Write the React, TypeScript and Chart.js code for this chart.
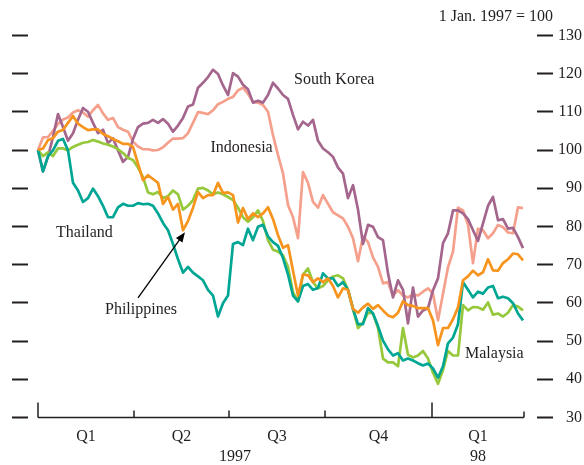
import { useEffect, useRef } from 'react';
import { Chart, registerables } from 'chart.js';

Chart.register(...registerables);

const FONT = '"Liberation Serif", "Times New Roman", serif';
const TEXT = '#231f20';

// Observation index (samples from 1 Jan 1997 to mid-March 1998)
const thailand = [
  100, 94.4, 98.4, 99.9, 102.4, 102.9, 99.9, 91.4, 89.4, 86.4,
  87.4, 89.9, 87.9, 85.4, 82.4, 82.4, 85, 85.9, 85.4, 85.4,
  86.1, 85.8, 85.9, 85.4, 83.4, 80.9, 79, 75.4, 71.4, 67.9,
  69.4, 67.9, 66.9, 65.9, 63.4, 61.9, 56.4, 59.9, 61.9, 75.4,
  75.9, 75.1, 79.4, 76.4, 79.9, 80.4, 77.4, 75.9, 74.9, 71.7,
  67.4, 61.9, 60.4, 64.4, 64.9, 63.4, 63.9, 67.7, 66.4, 66.4,
  64.4, 65.4, 63.4, 58.4, 54.4, 54.4, 58.6, 57.2, 53.9, 50.1,
  47.8, 46.2, 46.8, 44.9, 45.4, 44.9, 44.2, 43.6, 44.1, 42.8,
  40.4, 43.4, 49.4, 50.9, 54.4, 65.4, 63.4, 61.4, 62.9, 62.4,
  64, 64.4, 61.2, 61.6, 61.2, 59.9, 57.2, 55.4,
];
const malaysia = [
  100, 98.4, 99.4, 98.4, 100.4, 100.4, 99.9, 100.8, 101.4, 101.9,
  102.1, 102.6, 102.2, 101.7, 101.4, 100.9, 100.2, 99.2, 97.9, 97.4,
  95.4, 92.9, 88.9, 88.4, 89, 87.4, 87.9, 89.4, 88.4, 84.4,
  85.4, 86.9, 89.9, 90.1, 89.4, 88.4, 88.9, 88.4, 87.7, 86.9,
  84.9, 82.4, 81.2, 82.4, 84.2, 81.4, 76.4, 73.9, 73.4, 72.4,
  69.4, 62.7, 60.4, 67.4, 69, 65.4, 63.8, 64.4, 65.9, 66.9,
  67.2, 66.4, 63.4, 58.4, 53.4, 54.8, 57.4, 57.2, 53.4, 45.4,
  44.4, 44.4, 43.4, 53.4, 46.4, 45.7, 46.2, 47.4, 45.4, 41.7,
  38.8, 42.4, 47.4, 46.2, 46.2, 59.4, 58, 58.9, 58.8, 58.2,
  60.1, 56.9, 57.2, 56.4, 57.4, 59.4, 59, 58,
];
const philippines = [
  100, 100.4, 102.6, 103.1, 104.8, 105.3, 107.1, 108.9, 106.9, 106,
  105.2, 105.4, 105.4, 104.2, 103.6, 102.9, 102.3, 101.6, 101.6, 100.8,
  96.4, 92.1, 93.4, 92.4, 91.4, 85.9, 87.7, 84.4, 85.9, 79,
  81.4, 84.9, 89, 87.4, 88.2, 88.2, 91.4, 88.7, 88.9, 88.2,
  81, 84.8, 81.9, 83.4, 82.4, 83.4, 85, 81.9, 77.7, 74.4,
  75.1, 68.4, 61.9, 67.4, 67.2, 65.4, 66.4, 65.4, 66.4, 64.4,
  61.4, 63.8, 63.4, 58.4, 57.4, 58.8, 59.8, 58.4, 59.4, 58,
  56.7, 56.2, 57.4, 60.4, 59.4, 59.2, 58.6, 58.6, 58.6, 55.4,
  48.9, 53.4, 53.4, 55.7, 58.8, 65.9, 66.9, 68.4, 67.2, 68,
  71.4, 68.5, 68.4, 70.4, 71.4, 72.9, 72.7, 71.1,
];
const southKorea = [
  100, 94.4, 98.2, 103.4, 109.4, 106, 102.4, 104.4, 107.9, 111,
  110, 107.1, 104.4, 105.3, 101.8, 103.1, 99.9, 96.9, 98.2, 102.9,
  106, 106.9, 107.1, 107.9, 107.1, 108.1, 106.9, 104.8, 106.4, 108.4,
  111.4, 111.9, 116.3, 117.6, 119.1, 121, 119.9, 116.9, 114.4, 120.1,
  119.2, 117.1, 115.9, 112.4, 112.9, 112.4, 114.4, 117.6, 116.1, 114.4,
  113.4, 109.2, 105.4, 107.4, 106.4, 107.9, 102.4, 100.4, 99.4, 98.2,
  95.4, 93.8, 87.4, 90.8, 84.4, 75.4, 80.4, 79.9, 77.2, 76.4,
  67.7, 61.4, 65.9, 63.4, 54.6, 64, 56.4, 58, 58.6, 63.3,
  66.4, 75.6, 78.2, 84.2, 84.2, 83.4, 81.9, 79, 76.2, 80.8,
  85.4, 87.7, 81.6, 81.9, 79.4, 79.6, 77.2, 74.3,
];
const indonesia = [
  100, 103.3, 103.4, 105, 106.8, 108, 108.5, 109.8, 110.4, 109.8,
  108.7, 110.4, 111.8, 109.6, 107.9, 108.4, 106, 105.3, 104.8, 102.2,
  100.9, 100.2, 100.2, 99.9, 100, 100.7, 101.9, 103, 103, 103.1,
  104.4, 107.1, 109.9, 109.7, 109.4, 110.4, 112, 112.6, 113.4, 113.9,
  115.6, 116.3, 114.7, 112.6, 112.4, 111.8, 110, 103.9, 98.7, 93.9,
  85.6, 82.4, 76.9, 94.2, 91.4, 86.4, 84.9, 88.2, 85.9, 83.7,
  82.9, 82.1, 79.9, 76.9, 70.9, 77.4, 75.9, 71.9, 69.4, 65.1,
  65.4, 61.9, 63.3, 61.9, 61.4, 62.2, 61.9, 62.9, 63.8, 62.4,
  55.4, 62.4, 69.3, 73.4, 84.9, 84.2, 80.4, 70.4, 79.4, 79,
  76.9, 78.2, 80.4, 79.8, 78.4, 78.2, 85, 84.8,
];

// Axis definitions (in observation-index units)
const quarterStarts = [0, 19.2, 38.2, 57.4, 78.8];
const yearStarts = [0, 78.8];
const axisEnd = 97.2;
const quarterLabels = ['Q1', 'Q2', 'Q3', 'Q4', 'Q1'];
const yearLabels = ['1997', '98'];
const yearCenters = [39.4, 88];
const xMin = -2;
const xMax = 99.8;
const yMin = 30;
const yMax = 130;

const seriesNames = ['Philippines', 'Thailand', 'Malaysia', 'South Korea', 'Indonesia'];
const seriesColors = ['#f7941d', '#00a694', '#96c83c', '#a5668d', '#f5a08c'];

// Label positions in data units [x, y]
const seriesLabels: { text: string; x: number; y: number }[] = [
  { text: 'South Korea', x: 51.2, y: 118.3 },
  { text: 'Indonesia', x: 34.5, y: 100.5 },
  { text: 'Thailand', x: 3.6, y: 78.3 },
  { text: 'Philippines', x: 13.4, y: 58.1 },
  { text: 'Malaysia', x: 85.4, y: 46.6 },
];
const arrowFrom = { x: 20, y: 61.3 };
const arrowTo = { x: 29.4, y: 78.5 };

const quarterCenters = quarterStarts.map((q, i) =>
  (q + (i + 1 < quarterStarts.length ? quarterStarts[i + 1] : axisEnd)) / 2,
);

const annotPlugin = {
  id: 'annot',
  afterDraw(chart: any) {
    const { ctx, scales } = chart;
    const xs = scales.x;
    const ys = scales.y;
    ctx.save();
    const y0 = ys.getPixelForValue(yMin);
    ctx.strokeStyle = TEXT;
    ctx.lineWidth = 1.5;
    ctx.beginPath();
    ctx.moveTo(xs.getPixelForValue(quarterStarts[0]), y0);
    ctx.lineTo(xs.getPixelForValue(axisEnd), y0);
    quarterStarts.forEach((q) => {
      const len = yearStarts.includes(q) ? 15 : 7;
      const px = xs.getPixelForValue(q);
      ctx.moveTo(px, y0);
      ctx.lineTo(px, y0 - len);
    });
    const pe = xs.getPixelForValue(axisEnd);
    ctx.moveTo(pe, y0);
    ctx.lineTo(pe, y0 - 6);
    ctx.stroke();

    ctx.fillStyle = TEXT;
    ctx.font = `16px ${FONT}`;
    ctx.textBaseline = 'middle';
    ctx.textAlign = 'left';
    seriesLabels.forEach((l) => {
      ctx.fillText(l.text, xs.getPixelForValue(l.x), ys.getPixelForValue(l.y));
    });

    ctx.textAlign = 'right';
    ctx.fillText('1 Jan. 1997 = 100', ys.left + 16, 17);

    // arrow
    const ax1 = xs.getPixelForValue(arrowFrom.x);
    const ay1 = ys.getPixelForValue(arrowFrom.y);
    const ax2 = xs.getPixelForValue(arrowTo.x);
    const ay2 = ys.getPixelForValue(arrowTo.y);
    const ang = Math.atan2(ay2 - ay1, ax2 - ax1);
    const hl = 10;
    const hw = 4;
    ctx.strokeStyle = '#000';
    ctx.lineWidth = 1.3;
    ctx.beginPath();
    ctx.moveTo(ax1, ay1);
    ctx.lineTo(ax2 - Math.cos(ang) * hl * 0.8, ay2 - Math.sin(ang) * hl * 0.8);
    ctx.stroke();
    ctx.fillStyle = '#000';
    ctx.beginPath();
    ctx.moveTo(ax2, ay2);
    ctx.lineTo(
      ax2 - Math.cos(ang) * hl + Math.sin(ang) * hw,
      ay2 - Math.sin(ang) * hl - Math.cos(ang) * hw,
    );
    ctx.lineTo(
      ax2 - Math.cos(ang) * hl - Math.sin(ang) * hw,
      ay2 - Math.sin(ang) * hl + Math.cos(ang) * hw,
    );
    ctx.closePath();
    ctx.fill();
    ctx.restore();
  },
};

export default function App() {
  const ref = useRef<HTMLCanvasElement | null>(null);
  useEffect(() => {
    if (!ref.current) return;
    const allSeries = [philippines, thailand, malaysia, southKorea, indonesia];
    const datasets = allSeries.map((s, i) => ({
      label: seriesNames[i],
      data: s.map((v, k) => ({ x: k, y: v })),
      borderColor: seriesColors[i],
      backgroundColor: seriesColors[i],
      borderWidth: 2.7,
      pointRadius: 0,
      tension: 0,
      borderJoinStyle: 'round' as const,
      fill: false,
    }));
    const tickFont = { family: FONT, size: 16, lineHeight: 1.2 };
    const chart = new Chart(ref.current, {
      type: 'line',
      data: { datasets },
      options: {
        animation: false,
        responsive: false,
        devicePixelRatio: 1,
        layout: { padding: { left: 12, right: 2, top: 35.4, bottom: 0 } },
        plugins: { legend: { display: false }, tooltip: { enabled: false } },
        scales: {
          x: { type: 'linear', min: xMin, max: xMax, display: false },
          xq: {
            type: 'linear',
            position: 'bottom',
            min: xMin,
            max: xMax,
            weight: 0,
            grid: { display: false, drawTicks: false },
            border: { display: false },
            afterBuildTicks: (s: any) => {
              s.ticks = quarterCenters.map((v) => ({ value: v }));
            },
            afterFit: (s: any) => {
              s.height = 30;
            },
            ticks: {
              autoSkip: false,
              maxRotation: 0,
              padding: 10,
              font: tickFont,
              color: TEXT,
              callback: (_v: any, i: number) => quarterLabels[i],
            },
          },
          xyr: {
            type: 'linear',
            position: 'bottom',
            min: xMin,
            max: xMax,
            weight: 1,
            grid: { display: false, drawTicks: false },
            border: { display: false },
            afterBuildTicks: (s: any) => {
              s.ticks = yearCenters.map((v) => ({ value: v }));
            },
            afterFit: (s: any) => {
              s.height = 17.6;
            },
            ticks: {
              autoSkip: false,
              maxRotation: 0,
              padding: 0,
              font: tickFont,
              color: TEXT,
              callback: (_v: any, i: number) => yearLabels[i],
            },
          },
          y: {
            type: 'linear',
            position: 'right',
            min: yMin,
            max: yMax,
            grid: { drawOnChartArea: false, tickLength: 16, tickWidth: 2, tickColor: TEXT },
            border: { display: false },
            afterFit: (s: any) => {
              s.width = 45;
            },
            ticks: { stepSize: 10, padding: 5, crossAlign: 'far', font: tickFont, color: TEXT },
          },
          yl: {
            type: 'linear',
            position: 'left',
            min: yMin,
            max: yMax,
            grid: { drawOnChartArea: false, tickLength: 16, tickWidth: 2, tickColor: TEXT },
            border: { display: false },
            afterFit: (s: any) => {
              s.width = 16;
            },
            ticks: { stepSize: 10, display: false },
          },
        },
      },
      plugins: [annotPlugin],
    } as any);
    return () => chart.destroy();
  }, []);
  return (
    <canvas
      ref={ref}
      width={584}
      height={465}
      style={{ position: 'absolute', left: 0, top: 0, width: 584, height: 465, display: 'block' }}
    />
  );
}
